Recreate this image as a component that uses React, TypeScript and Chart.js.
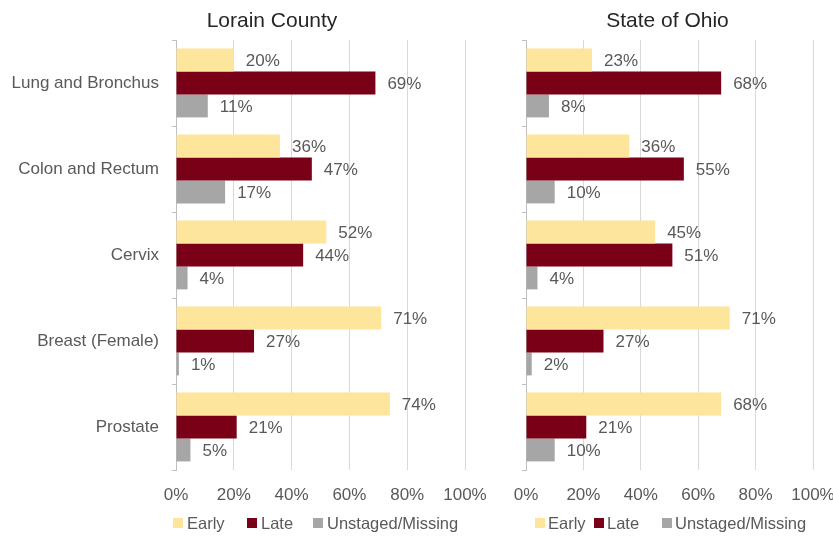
import React, { useEffect, useRef } from 'react';
import { Chart, registerables } from 'chart.js';

Chart.register(...registerables);

const categories = ['Lung and Bronchus', 'Colon and Rectum', 'Cervix', 'Breast (Female)', 'Prostate'];
const seriesNames = ['Early', 'Late', 'Unstaged/Missing'];
const lorainEarly = [20, 36, 52, 71, 74];
const lorainLate = [69, 47, 44, 27, 21];
const lorainUnstaged = [11, 17, 4, 1, 5];
const ohioEarly = [23, 36, 45, 71, 68];
const ohioLate = [68, 55, 51, 27, 21];
const ohioUnstaged = [8, 10, 4, 2, 10];
const xMax = 100;
const xStep = 20;
const panelTitles = ['Lorain County', 'State of Ohio'];

const COLORS = ['#FDE59B', '#7A0017', '#A6A6A6'];
const FONT = "'Liberation Sans', Arial, Helvetica, sans-serif";
const TEXT = '#595959';

const decor = {
  id: 'decor',
  afterDatasetsDraw(chart: any) {
    const ctx = chart.ctx;
    ctx.save();
    ctx.font = `17px ${FONT}`;
    ctx.fillStyle = TEXT;
    ctx.textAlign = 'left';
    ctx.textBaseline = 'middle';
    chart.data.datasets.forEach((ds: any, i: number) => {
      const meta = chart.getDatasetMeta(i);
      meta.data.forEach((el: any, j: number) => {
        ctx.fillText(`${ds.data[j]}%`, el.x + 12, el.y + 1);
      });
    });
    ctx.restore();
  },
  afterDraw(chart: any, _args: any, opts: any) {
    const ctx = chart.ctx;
    const area = chart.chartArea;
    ctx.save();
    ctx.font = `21px ${FONT}`;
    ctx.fillStyle = '#262626';
    ctx.textAlign = 'center';
    ctx.textBaseline = 'alphabetic';
    ctx.fillText(opts.title, opts.titleX, 27);
    ctx.font = `16.5px ${FONT}`;
    ctx.textAlign = 'left';
    chart.data.datasets.forEach((ds: any, i: number) => {
      const bx = area.left + opts.legendOffsets[i];
      ctx.fillStyle = ds.backgroundColor;
      ctx.fillRect(bx, 518, 10, 10);
      ctx.fillStyle = TEXT;
      ctx.fillText(ds.label, bx + opts.legendTextGap, 529);
    });
    ctx.restore();
  },
};

function makeChart(canvas: HTMLCanvasElement, values: number[][], o: any) {
  return new Chart(canvas, {
    type: 'bar',
    data: {
      labels: categories,
      datasets: values.map((d, i) => ({
        label: seriesNames[i],
        data: d,
        backgroundColor: COLORS[i],
        borderWidth: 0,
      })),
    },
    options: {
      indexAxis: 'y',
      responsive: false,
      animation: false,
      layout: { padding: { top: 40, right: o.padRight, left: 0, bottom: 0 } },
      datasets: { bar: { categoryPercentage: 0.8, barPercentage: 1 } },
      plugins: {
        legend: { display: false },
        title: { display: false },
        tooltip: { enabled: false },
        decor: o.decor,
      },
      scales: {
        x: {
          min: 0,
          max: xMax,
          ticks: {
            stepSize: xStep,
            callback: (v: any) => `${v}%`,
            color: TEXT,
            font: { family: FONT, size: 17 },
            padding: 0,
            maxRotation: 0,
          },
          grid: {
            color: '#D9D9D9',
            drawTicks: true,
            tickLength: 15,
            tickColor: 'rgba(0,0,0,0)',
            lineWidth: 1,
          },
          border: { display: false },
          afterFit: (s: any) => {
            s.height = 66;
          },
        },
        y: {
          ticks: {
            display: o.showY,
            color: TEXT,
            font: { family: FONT, size: 17 },
            padding: 13,
          },
          grid: {
            drawOnChartArea: false,
            drawTicks: true,
            tickLength: 4,
            color: '#BFBFBF',
            offset: true,
          },
          border: { color: '#BFBFBF' },
          afterFit: (s: any) => {
            s.width = o.yWidth;
          },
        },
      },
    } as any,
    plugins: [decor],
  });
}

export default function App() {
  const leftRef = useRef<HTMLCanvasElement>(null);
  const rightRef = useRef<HTMLCanvasElement>(null);

  useEffect(() => {
    const a = makeChart(leftRef.current!, [lorainEarly, lorainLate, lorainUnstaged], {
      padRight: 35,
      yWidth: 176,
      showY: true,
      decor: { title: panelTitles[0], titleX: 272, legendOffsets: [-3, 71, 137], legendTextGap: 14 },
    });
    const b = makeChart(rightRef.current!, [ohioEarly, ohioLate, ohioUnstaged], {
      padRight: 27,
      yWidth: 26,
      showY: false,
      decor: { title: panelTitles[1], titleX: 167.5, legendOffsets: [9, 68, 136], legendTextGap: 13 },
    });
    return () => {
      a.destroy();
      b.destroy();
    };
  }, []);

  return (
    <div
      style={{
        position: 'absolute',
        left: 0,
        top: 0,
        width: 833,
        height: 536,
        overflow: 'hidden',
        background: '#fff',
      }}
    >
      <canvas ref={leftRef} width={500} height={536} style={{ position: 'absolute', left: 0, top: 0, display: 'block' }} />
      <canvas ref={rightRef} width={340} height={536} style={{ position: 'absolute', left: 500, top: 0, display: 'block' }} />
    </div>
  );
}
